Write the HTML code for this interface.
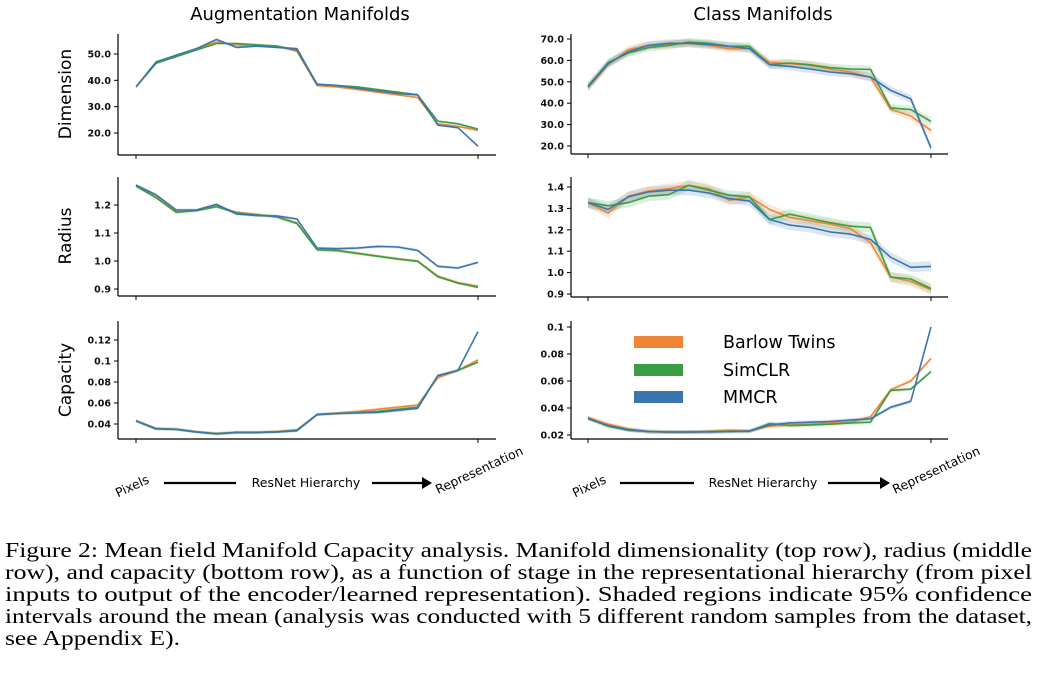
<!DOCTYPE html>
<html><head><meta charset="utf-8"><style>
body{margin:0;background:#fff;width:1038px;height:675px;overflow:hidden}
svg{display:block}
</style></head><body>
<svg id="fig" width="1038" height="675" xmlns="http://www.w3.org/2000/svg" font-family="'DejaVu Sans', 'Liberation Sans', sans-serif"></svg>
<script>
// ---------- data ----------
const stages = [0,1,2,3,4,5,6,7,8,9,10,11,12,13,14,15,16,17];
const seriesNames = ["Barlow Twins","SimCLR","MMCR"];
// Augmentation Manifolds
const augDimBarlow = [37.5,46.5,49.5,52,54.5,53.5,53,53,51,38,37.5,36.5,35.5,34.5,33.5,23.5,22.5,21];
const augDimSimclr = [37.5,46.5,49,51.5,54,54,53.5,53,51.5,38.5,38,37.5,36.5,35.5,34.5,24.5,23.5,21.5];
const augDimMmcr   = [37.5,47,49.5,52,55.5,52.5,53,52.5,52,38.5,38,37,36,35,34.5,23,22,15];
const augRadBarlow = [1.268,1.228,1.176,1.18,1.196,1.174,1.166,1.158,1.136,1.04,1.038,1.028,1.018,1.008,1.0,0.946,0.923,0.91];
const augRadSimclr = [1.268,1.226,1.174,1.18,1.194,1.172,1.165,1.157,1.134,1.04,1.037,1.027,1.017,1.007,0.999,0.944,0.921,0.906];
const augRadMmcr   = [1.271,1.236,1.182,1.182,1.202,1.168,1.162,1.161,1.15,1.046,1.044,1.046,1.052,1.05,1.038,0.981,0.975,0.995];
const augCapBarlow = [0.043,0.0356,0.035,0.0325,0.031,0.032,0.032,0.0328,0.0345,0.049,0.0505,0.052,0.054,0.056,0.058,0.084,0.091,0.101];
const augCapSimclr = [0.043,0.0356,0.035,0.0325,0.031,0.032,0.032,0.0325,0.034,0.049,0.05,0.051,0.052,0.054,0.056,0.086,0.091,0.099];
const augCapMmcr   = [0.043,0.0352,0.035,0.0325,0.0305,0.032,0.032,0.0325,0.0335,0.049,0.05,0.0505,0.051,0.053,0.055,0.086,0.091,0.128];
// Class Manifolds
const clsDimBarlow = [47.3,58,65,67,67.5,68,67,65.5,65.5,59,58.5,57.7,56,54.6,52.2,37.2,34,27.3];
const clsDimSimclr = [47.9,59,63.5,66,67,68.6,68,66.6,66.6,58,58.8,58,56.6,56,55.8,37.8,37,31.5];
const clsDimMmcr   = [47.6,58.5,64,67,68,68,67.5,66.6,65.5,58,57.2,56,54.6,53.8,52.2,46,42,19];
const clsRadBarlow = [1.326,1.279,1.357,1.382,1.392,1.408,1.392,1.338,1.354,1.295,1.258,1.242,1.226,1.206,1.14,0.979,0.959,0.92];
const clsRadSimclr = [1.327,1.312,1.327,1.357,1.364,1.408,1.385,1.361,1.354,1.248,1.273,1.253,1.233,1.217,1.211,0.979,0.97,0.925];
const clsRadMmcr   = [1.327,1.295,1.354,1.377,1.385,1.385,1.372,1.346,1.335,1.248,1.222,1.211,1.19,1.18,1.155,1.072,1.025,1.029];
const clsCapBarlow = [0.033,0.028,0.0245,0.0225,0.022,0.022,0.0225,0.0235,0.023,0.0265,0.0275,0.028,0.029,0.0295,0.0335,0.0535,0.06,0.0767];
const clsCapSimclr = [0.0325,0.0265,0.0235,0.0225,0.0222,0.0222,0.0225,0.0228,0.0228,0.0285,0.027,0.0275,0.028,0.029,0.0295,0.053,0.054,0.067];
const clsCapMmcr   = [0.032,0.027,0.024,0.0225,0.0222,0.0222,0.0222,0.0225,0.0228,0.0275,0.029,0.0295,0.03,0.031,0.032,0.0405,0.045,0.1];
// ticks
const augDimTicks = [20,30,40,50]; const augDimLabels = ["20.0","30.0","40.0","50.0"];
const clsDimTicks = [20,30,40,50,60,70]; const clsDimLabels = ["20.0","30.0","40.0","50.0","60.0","70.0"];
const augRadTicks = [0.9,1.0,1.1,1.2]; const augRadLabels = ["0.9","1.0","1.1","1.2"];
const clsRadTicks = [0.9,1.0,1.1,1.2,1.3,1.4]; const clsRadLabels = ["0.9","1.0","1.1","1.2","1.3","1.4"];
const augCapTicks = [0.04,0.06,0.08,0.1,0.12]; const augCapLabels = ["0.04","0.06","0.08","0.1","0.12"];
const clsCapTicks = [0.02,0.04,0.06,0.08,0.1]; const clsCapLabels = ["0.02","0.04","0.06","0.08","0.1"];

const COL = {"Barlow Twins":"#ef8636","SimCLR":"#3b9e45","MMCR":"#3b75af"};
const NS = "http://www.w3.org/2000/svg";
const svg = document.getElementById('fig');
function mk(tag, attrs, parent, txt){
  const e=document.createElementNS(NS,tag);
  for(const k in attrs) e.setAttribute(k,attrs[k]);
  if(txt!==undefined) e.textContent=txt;
  (parent||svg).appendChild(e); return e;
}

function panel(name, g, ticks, labels, series, band){
  const grp = mk('g',{});
  
  
  const [sx,x0,x1,xr,yt,yb,va,pa,vb,pb] = g;
  const xs = i => x0 + (x1-x0)*i/(stages.length-1);
  const ys = v => pa + (v-va)*(pb-pa)/(vb-va);
  if(band){
    series.forEach(([nm,arr])=>{
      let top=[],bot=[];
      stages.forEach(i=>{top.push(xs(i)+','+(ys(arr[i])-band));bot.unshift(xs(i)+','+(ys(arr[i])+band));});
      const p=mk('polygon',{points:top.concat(bot).join(' '),fill:COL[nm],opacity:0.18},grp);
      
      
    });
  }
  series.forEach(([nm,arr])=>{
    const pts = stages.map(i=>xs(i).toFixed(1)+','+ys(arr[i]).toFixed(1)).join(' ');
    const l=mk('polyline',{points:pts,fill:'none',stroke:COL[nm],'stroke-width':1.6,'stroke-linejoin':'round'},grp);
    
    
  });
  mk('line',{x1:sx,y1:yt,x2:sx,y2:yb,stroke:'#000','stroke-width':1.2},grp);
  mk('line',{x1:sx,y1:yb,x2:xr,y2:yb,stroke:'#000','stroke-width':1.2},grp);
  [x0,x1].forEach(x=>mk('line',{x1:x,y1:yb,x2:x,y2:yb+4,stroke:'#000','stroke-width':1},grp));
  ticks.forEach((t,k)=>{
    const y=ys(t);
    mk('line',{x1:sx-4,y1:y,x2:sx,y2:y,stroke:'#000','stroke-width':1},grp);
    const tx=mk('text',{x:sx-7,y:y+3.5,'font-size':9.5,'text-anchor':'end',fill:'#111','font-weight':'bold'},grp,labels[k]);
    
    
  });
}
const S = (a,b,c)=>[["Barlow Twins",a],["SimCLR",b],["MMCR",c]];
panel('aug-dimension-panel',[118,136,478,496,34,155,50,54,20,133],augDimTicks,augDimLabels,S(augDimBarlow,augDimSimclr,augDimMmcr),1.2);
panel('cls-dimension-panel',[571,588,931,948,34,154,70,39,20,146],clsDimTicks,clsDimLabels,S(clsDimBarlow,clsDimSimclr,clsDimMmcr),4);
panel('aug-radius-panel',[118,136,478,496,177,296,1.2,205,0.9,289],augRadTicks,augRadLabels,S(augRadBarlow,augRadSimclr,augRadMmcr),1.5);
panel('cls-radius-panel',[571,588,931,948,177,297,1.4,187,0.9,294],clsRadTicks,clsRadLabels,S(clsRadBarlow,clsRadSimclr,clsRadMmcr),5);
panel('aug-capacity-panel',[118,136,478,496,321,439,0.12,340,0.04,424],augCapTicks,augCapLabels,S(augCapBarlow,augCapSimclr,augCapMmcr),1.5);
panel('cls-capacity-panel',[571,588,931,948,321,439,0.1,327,0.02,435],clsCapTicks,clsCapLabels,S(clsCapBarlow,clsCapSimclr,clsCapMmcr),2);

let t;
t=mk('text',{x:300,y:20,'font-size':18,'text-anchor':'middle'},svg,'Augmentation Manifolds');

t=mk('text',{x:763,y:20,'font-size':18,'text-anchor':'middle'},svg,'Class Manifolds');

[['Dimension',94],['Radius',236],['Capacity',380]].forEach(([s,y])=>{
  const e=mk('text',{x:0,y:0,'font-size':17,'text-anchor':'middle',transform:`translate(71,${y}) rotate(-90)`},svg,s);
  
  
});
function xlab(px, cx, a1, a2, a3, a4, rx){
  let e=mk('text',{x:0,y:0,'font-size':12.5,'text-anchor':'middle',transform:`translate(${px},490) rotate(-25)`},svg,'Pixels');
  
  e=mk('text',{x:cx,y:487,'font-size':12.5,'text-anchor':'middle'},svg,'ResNet Hierarchy');
  
  mk('line',{x1:a1,y1:483,x2:a2,y2:483,stroke:'#000','stroke-width':2.2});
  mk('line',{x1:a3,y1:483,x2:a4-6,y2:483,stroke:'#000','stroke-width':2.2});
  mk('polygon',{points:`${a4},483 ${a4-10},477 ${a4-10},489`,fill:'#000'});
  e=mk('text',{x:0,y:0,'font-size':12.5,'text-anchor':'middle',transform:`translate(${rx},474) rotate(-25)`},svg,'Representation');
  
}
xlab(134,306,164,236,372,432,481);
xlab(591,763,620,694,828,890,938);
[['Barlow Twins',342],['SimCLR',370],['MMCR',397]].forEach(([n,y])=>{
  const r=mk('rect',{x:634,y:y-6,width:49,height:12,fill:COL[n]});
  
  const e=mk('text',{x:723,y:y+6,'font-size':17.5},svg,n);
  
});
const cap=["Figure 2: Mean field Manifold Capacity analysis. Manifold dimensionality (top row), radius (middle",
"row), and capacity (bottom row), as a function of stage in the representational hierarchy (from pixel",
"inputs to output of the encoder/learned representation). Shaded regions indicate 95% confidence",
"intervals around the mean (analysis was conducted with 5 different random samples from the dataset,",
"see Appendix E)."];
const capWidths=[1027,1027,1027,1027,175];
cap.forEach((s,i)=>{
  const a={x:5,y:557+i*22,'font-size':21,'font-family':"Liberation Serif, serif",textLength:capWidths[i],lengthAdjust:'spacingAndGlyphs'};
  const e=mk('text',a,svg,s);
  
});
</script>
</body></html>
